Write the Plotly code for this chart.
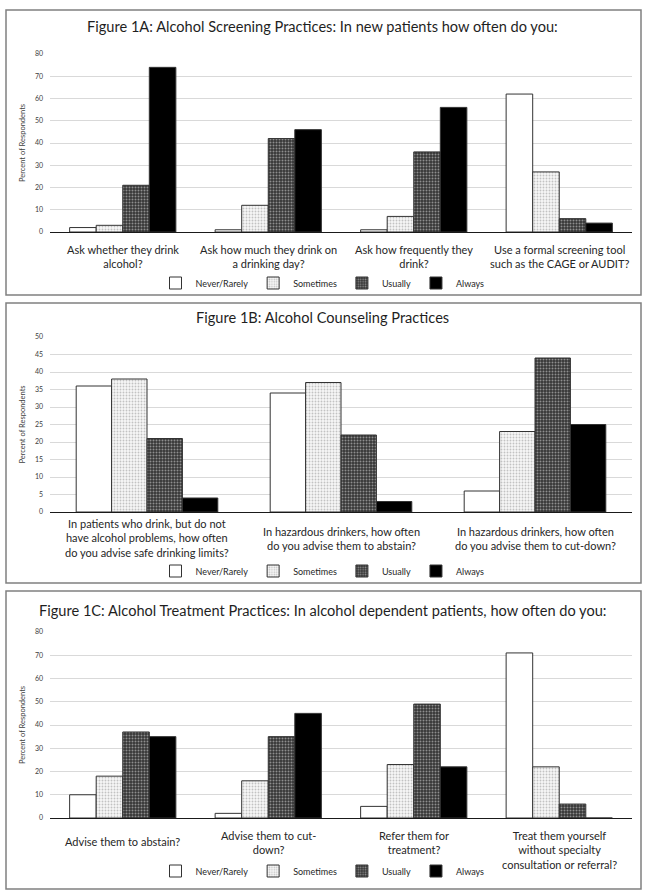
import plotly.graph_objects as go

# ---------------- data ----------------
series = ["Never/Rarely", "Sometimes", "Usually", "Always"]

cats_a = ["Ask whether they drink<br>alcohol?",
          "Ask how much they drink on<br>a drinking day?",
          "Ask how frequently they<br>drink?",
          "Use a formal screening tool<br>such as the CAGE or AUDIT?"]
never_a = [2, 1, 1, 62]
sometimes_a = [3, 12, 7, 27]
usually_a = [21, 42, 36, 6]
always_a = [74, 46, 56, 4]

cats_b = ["In patients who drink, but do not<br>have alcohol problems, how often<br>do you advise safe drinking limits?",
          "In hazardous drinkers, how often<br>do you advise them to abstain?",
          "In hazardous drinkers, how often<br>do you advise them to cut-down?"]
never_b = [36, 34, 6]
sometimes_b = [38, 37, 23]
usually_b = [21, 22, 44]
always_b = [4, 3, 25]

cats_c = ["Advise them to abstain?",
          "Advise them to cut-<br>down?",
          "Refer them for<br>treatment?",
          "Treat them yourself<br>without specialty<br>consultation or referral?"]
never_c = [10, 2, 5, 71]
sometimes_c = [18, 16, 23, 22]
usually_c = [37, 35, 49, 6]
always_c = [35, 45, 22, 0]

titles = ["Figure 1A: Alcohol Screening Practices: In new patients how often do you:",
          "Figure 1B: Alcohol Counseling Practices",
          "Figure 1C: Alcohol Treatment Practices: In alcohol dependent patients, how often do you:"]
y_title = "Percent of Respondents"

# ---------------- styling ----------------
W, H = 645, 891
FONT = "Lato"


def py(p):
    return 1 - p / H


def px(p):
    return p / W


styles = {
    "Never/Rarely": dict(color="white"),
    "Sometimes": dict(color="white",
                      pattern=dict(shape=".", bgcolor="#f7f7f7", fgcolor="#c2c2c2",
                                   size=3, solidity=0.3, fillmode="replace")),
    "Usually": dict(color="#444444",
                    pattern=dict(shape=".", bgcolor="#363636", fgcolor="#8e8e8e",
                                 size=3, solidity=0.35, fillmode="replace")),
    "Always": dict(color="black"),
}

panels = [
    dict(cats=cats_a, vals=[never_a, sometimes_a, usually_a, always_a], ymax=80, dtick=10,
         y0=232, y1=54, box=(10, 295), title_y=27, legend_y=283,
         label_mode="top", label_y=241),
    dict(cats=cats_b, vals=[never_b, sometimes_b, usually_b, always_b], ymax=50, dtick=5,
         y0=512, y1=337, box=(303, 583), title_y=318, legend_y=571,
         label_mode="middle", label_y=538),
    dict(cats=cats_c, vals=[never_c, sometimes_c, usually_c, always_c], ymax=80, dtick=10,
         y0=818, y1=632, box=(591, 889), title_y=610, legend_y=871,
         label_mode="top", label_y=827),
]

fig = go.Figure()
layout = dict(
    width=W, height=H,
    margin=dict(l=0, r=0, t=0, b=0),
    paper_bgcolor="white", plot_bgcolor="white",
    barmode="group", bargap=0.27, bargroupgap=0,
    font=dict(family=FONT, color="#262626"),
    showlegend=True,
)
annotations = []
shapes = []

for i, p in enumerate(panels):
    n = i + 1
    xa = "x" if n == 1 else f"x{n}"
    ya = "y" if n == 1 else f"y{n}"
    lg = "legend" if n == 1 else f"legend{n}"
    for s, v in zip(series, p["vals"]):
        st = styles[s]
        marker = dict(color=st["color"], line=dict(color="#333333", width=1))
        if "pattern" in st:
            marker["pattern"] = st["pattern"]
        fig.add_trace(go.Bar(x=p["cats"], y=v, name=s, marker=marker,
                             xaxis=xa, yaxis=ya, legend=lg, hoverinfo="skip"))
    layout[f"xaxis{'' if n == 1 else n}"] = dict(
        domain=[px(50), px(632)], anchor=ya, type="category",
        showticklabels=False, ticks="", showline=True, linecolor="#1a1a1a",
        linewidth=1, showgrid=False, automargin=False, fixedrange=True)
    layout[f"yaxis{'' if n == 1 else n}"] = dict(
        domain=[py(p["y0"]), py(p["y1"])], anchor=xa, range=[0, p["ymax"]],
        dtick=p["dtick"], showgrid=True, gridcolor="#d9d9d9", gridwidth=1,
        zeroline=False, showline=False, ticks="", ticklabelstandoff=6,
        tickfont=dict(size=7, color="#404040"), automargin=False, fixedrange=True,
        title=dict(text=y_title, font=dict(size=7.5, color="#404040"), standoff=8))
    layout[lg] = dict(orientation="h", x=0.5, xanchor="center",
                      y=py(p["legend_y"]), yanchor="middle",
                      font=dict(size=9, color="#262626"), bgcolor="rgba(0,0,0,0)",
                      itemwidth=30, tracegroupgap=0, traceorder="normal")
    # title
    annotations.append(dict(text=titles[i], x=0.5, xref="paper", xanchor="center",
                            y=py(p["title_y"]), yref="paper", yanchor="middle",
                            showarrow=False, font=dict(size=14.6, color="#1f1f1f")))
    # category labels
    for c in p["cats"]:
        nlines = c.count("<br>") + 1
        if p["label_mode"] == "middle":
            yy, anc = p["label_y"], "middle"
        elif nlines == 1:
            yy, anc = p["label_y"] + 14.5, "middle"
        else:
            yy, anc = p["label_y"], "top"
        annotations.append(dict(text=c, x=c, xref=xa, y=py(yy), yref="paper",
                                yanchor=anc, xanchor="center", showarrow=False,
                                align="center",
                                font=dict(size=11, color="#262626")))
    # panel border
    shapes.append(dict(type="rect", xref="paper", yref="paper",
                       x0=px(6), x1=px(641), y0=py(p["box"][1]), y1=py(p["box"][0]),
                       line=dict(color="#808080", width=1.5)))

layout["annotations"] = annotations
layout["shapes"] = shapes
fig.update_layout(**layout)

fig.write_html("out.html", config={"displayModeBar": False},
               post_script="document.body.style.margin='0';document.body.style.overflow='hidden';")
